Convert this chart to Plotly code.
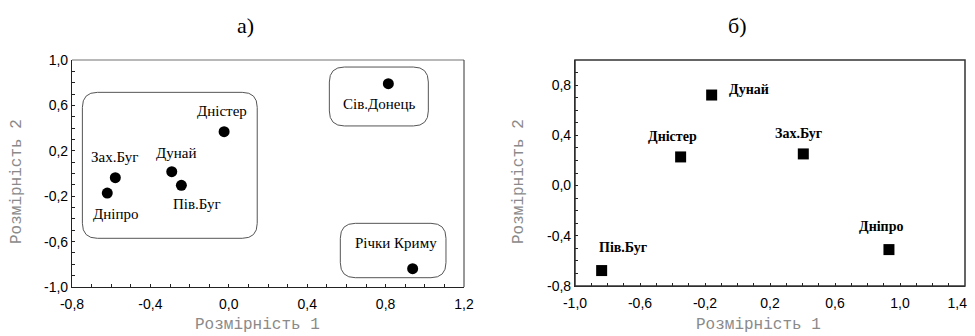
import plotly.graph_objects as go

# ---------- data: panel a) ----------
a_names = ["Дністер", "Сів.Донець", "Річки Криму", "Зах.Буг", "Дунай", "Пів.Буг", "Дніпро"]
a_x = [-0.024, 0.814, 0.938, -0.579, -0.291, -0.242, -0.620]
a_y = [0.368, 0.791, -0.839, -0.037, 0.016, -0.104, -0.172]
# group boxes (x0, x1, y0, y1) in data units
a_boxes_x0 = [-0.747, 0.513, 0.569]
a_boxes_x1 = [0.145, 1.018, 1.108]
a_boxes_y0 = [-0.571, 0.419, -0.918]
a_boxes_y1 = [0.715, 0.938, -0.439]
a_xticks = [-0.8, -0.4, 0.0, 0.4, 0.8, 1.2]
a_xticktext = ["-0,8", "-0,4", "0,0", "0,4", "0,8", "1,2"]
a_yticks = [-1.0, -0.6, -0.2, 0.2, 0.6, 1.0]
a_yticktext = ["-1,0", "-0,6", "-0,2", "0,2", "0,6", "1,0"]

# ---------- data: panel б) ----------
b_names = ["Дунай", "Дністер", "Зах.Буг", "Дніпро", "Пів.Буг"]
b_x = [-0.159, -0.350, 0.405, 0.932, -0.836]
b_y = [0.721, 0.228, 0.252, -0.510, -0.677]
b_xticks = [-1.0, -0.6, -0.2, 0.2, 0.6, 1.0, 1.4]
b_xticktext = ["-1,0", "-0,6", "-0,2", "0,2", "0,6", "1,0", "1,4\u2007\u2007"]
b_yticks = [-0.8, -0.4, 0.0, 0.4, 0.8]
b_yticktext = ["-0,8", "-0,4", "0,0", "0,4", "0,8"]

# label offsets (pixels: dx right, dy up)
a_dx = [-2, -9, -17, -1, 4, 16, 8]
a_dy = [21, -20, 26, 21, 19, -19, -21]
b_dx = [37, -8, -5, -8, 21]
b_dy = [6, 20, 20, 23, 23]

# page body has an 8px margin; figure is sized so it ends at the window edge
OFF = 8
W, H = 975 - OFF, 336 - OFF


def px(x):
    return (x - OFF) / W


def py(y):
    return 1 - (y - OFF) / H


a_dom_x = [px(72), px(464)]
a_dom_y = [py(287), py(60)]
b_dom_x = [px(575), px(965)]
b_dom_y = [py(286), py(60)]
a_range_x, a_range_y = [-0.8, 1.2], [-1.0, 1.0]
b_range_x, b_range_y = [-1.0, 1.4], [-0.8, 1.0]

fig = go.Figure()

fig.add_trace(go.Scatter(x=a_x, y=a_y, mode="markers", xaxis="x", yaxis="y",
                         marker=dict(symbol="circle", size=11, color="black"),
                         showlegend=False, hoverinfo="skip", cliponaxis=False))
fig.add_trace(go.Scatter(x=b_x, y=b_y, mode="markers", xaxis="x2", yaxis="y2",
                         marker=dict(symbol="square", size=11, color="black"),
                         showlegend=False, hoverinfo="skip", cliponaxis=False))

serif = "Liberation Serif"
sans = "Liberation Sans"
mono = "Liberation Mono"

annotations = []
for n, x, y, dx, dy in zip(a_names, a_x, a_y, a_dx, a_dy):
    annotations.append(dict(x=x, y=y, xref="x", yref="y", text=n, showarrow=False,
                            xanchor="center", yanchor="middle",
                            xshift=dx, yshift=dy, font=dict(family=serif, size=15, color="black")))
for n, x, y, dx, dy in zip(b_names, b_x, b_y, b_dx, b_dy):
    annotations.append(dict(x=x, y=y, xref="x2", yref="y2", text="<b>" + n + "</b>", showarrow=False,
                            xanchor="center", yanchor="middle",
                            xshift=dx, yshift=dy, font=dict(family=serif, size=14, color="black")))


def paper_text(x, y, text, font, angle=0):
    return dict(x=px(x), y=py(y), xref="paper", yref="paper", text=text, showarrow=False,
                xanchor="center", yanchor="middle", textangle=angle, font=font)


title_font = dict(family=serif, size=22, color="black")
axcol = "#8a8a8a"
axis_title_font = dict(family=mono, size=16, color=axcol)
annotations.append(paper_text(245, 25, "а)", title_font))
annotations.append(paper_text(737, 25, "б)", title_font))
annotations.append(paper_text(257, 325, "Розмірність 1", axis_title_font))
annotations.append(paper_text(758, 325, "Розмірність 1", axis_title_font))
annotations.append(paper_text(17, 182, "Розмірність 2", axis_title_font, -90))
annotations.append(paper_text(519, 182, "Розмірність 2", axis_title_font, -90))


def rounded_path(x0, x1, y0, y1, rx, ry):
    return (f"M {x0 + rx},{y0} L {x1 - rx},{y0} Q {x1},{y0} {x1},{y0 + ry} "
            f"L {x1},{y1 - ry} Q {x1},{y1} {x1 - rx},{y1} "
            f"L {x0 + rx},{y1} Q {x0},{y1} {x0},{y1 - ry} "
            f"L {x0},{y0 + ry} Q {x0},{y0} {x0 + rx},{y0} Z")


shapes = []
# corner radius ~15 px converted to data units
ux = (a_range_x[1] - a_range_x[0]) / ((a_dom_x[1] - a_dom_x[0]) * W)
uy = (a_range_y[1] - a_range_y[0]) / ((a_dom_y[1] - a_dom_y[0]) * H)
for x0, x1, y0, y1 in zip(a_boxes_x0, a_boxes_x1, a_boxes_y0, a_boxes_y1):
    shapes.append(dict(type="path", xref="x", yref="y",
                       path=rounded_path(x0, x1, y0, y1, 15 * ux, 15 * uy),
                       line=dict(color="#555555", width=1)))
# frames
shapes.append(dict(type="line", xref="x domain", yref="y domain", x0=0, x1=1, y0=1, y1=1,
                   line=dict(color="#a0a0a0", width=1.5)))
shapes.append(dict(type="line", xref="x domain", yref="y domain", x0=1, x1=1, y0=0, y1=1,
                   line=dict(color="#333333", width=1)))
shapes.append(dict(type="rect", xref="x2 domain", yref="y2 domain", x0=0, x1=1, y0=0, y1=1,
                   line=dict(color="#333333", width=1.5)))

axis_common = dict(showgrid=False, zeroline=False, showline=True, linecolor="#222222", linewidth=1.2,
                   ticks="inside", ticklen=3, tickcolor="#222222", automargin=False,
                   tickfont=dict(family=sans, size=14, color="black"),
                   minor=dict(ticks="inside", ticklen=3, dtick=0.1, tickcolor="#222222"))

fig.update_layout(
    width=W, height=H,
    margin=dict(l=0, r=0, t=0, b=0, pad=0, autoexpand=False),
    paper_bgcolor="white", plot_bgcolor="white",
    xaxis=dict(domain=a_dom_x, range=a_range_x, tickvals=a_xticks, ticktext=a_xticktext,
               anchor="y", ticklabelstandoff=4, **axis_common),
    yaxis=dict(domain=a_dom_y, range=a_range_y, tickvals=a_yticks, ticktext=a_yticktext,
               anchor="x", **axis_common),
    xaxis2=dict(domain=b_dom_x, range=b_range_x, tickvals=b_xticks, ticktext=b_xticktext,
                anchor="y2", ticklabelstandoff=4, ticklabeloverflow="allow", **axis_common),
    yaxis2=dict(domain=b_dom_y, range=b_range_y, tickvals=b_yticks, ticktext=b_yticktext,
                anchor="x2", **axis_common),
    annotations=annotations,
    shapes=shapes,
)

fig.write_html("out.html")
